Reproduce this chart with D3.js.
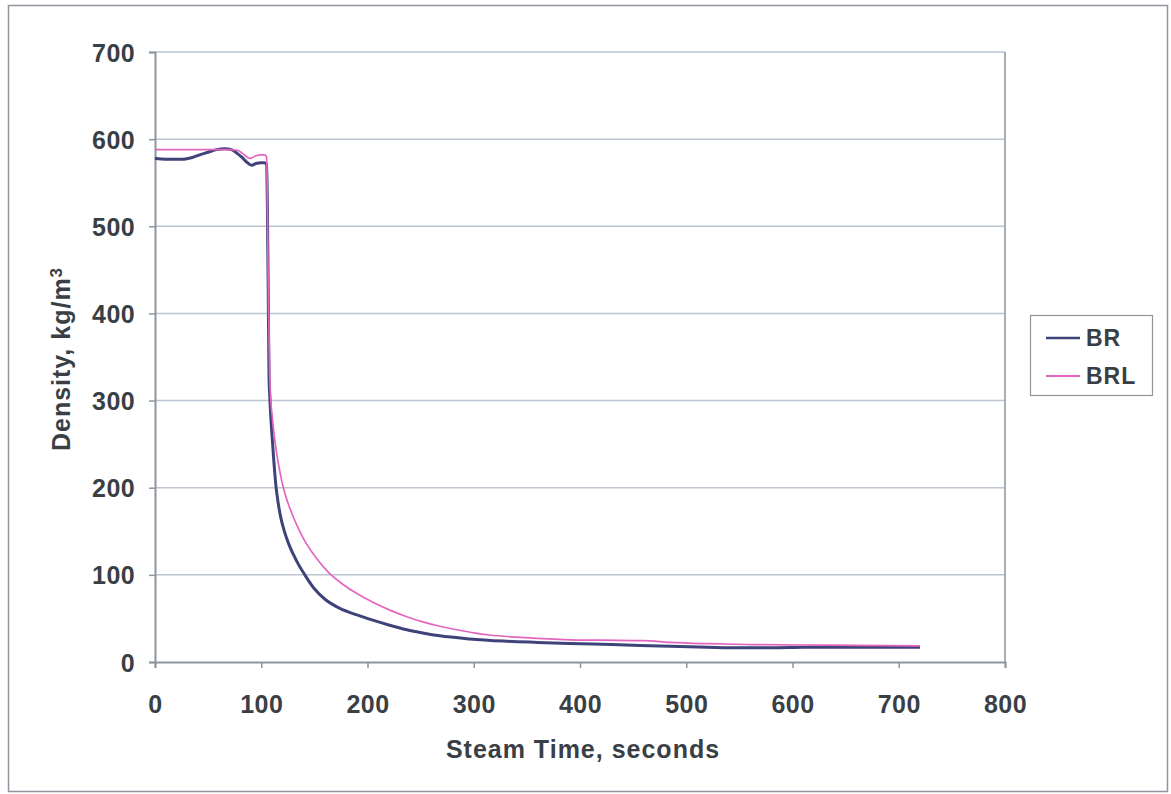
<!DOCTYPE html>
<html>
<head>
<meta charset="utf-8">
<script src="https://cdn.jsdelivr.net/npm/d3@7/dist/d3.min.js"></script>
<style>
  html, body { margin: 0; padding: 0; background: #fff; }
  svg { display: block; font-family: "Liberation Sans", Arial, sans-serif; }
</style>
</head>
<body>
<svg id="chart" width="1171" height="794"></svg>
<script>
// Steam time (s) and density (kg/m3) for the two runs
const brTime = [0, 10, 20, 26, 35, 42, 50, 58, 66, 72, 77, 82, 86, 91, 95, 100, 103, 105, 105.8, 106.6, 107.3, 108.2, 110, 112, 114, 116, 118, 122, 126, 130, 135, 141, 150, 160, 174, 190, 205, 220, 237, 252, 268, 296, 328, 360, 390, 430, 485, 520, 548, 580, 610, 650, 690, 720];
const brDensity = [578, 577, 577, 577, 579, 582, 585, 588, 589, 588, 584, 579, 574, 570, 572, 573, 573, 571, 520, 420, 330, 300, 262, 228, 200, 182, 168, 149, 135, 124, 112, 100, 84, 72, 61.5, 54, 48, 42.5, 37, 33.3, 30, 26.5, 24, 22.5, 21.3, 20, 18, 17, 16.3, 16.3, 16.8, 17, 17, 17];

const brlTime = [0, 20, 40, 60, 66, 72, 78, 82, 86, 89, 92, 95, 100, 103, 105, 105.8, 106.8, 108, 109, 110.5, 112, 113.6, 117, 120.8, 125, 130, 135, 140, 152, 164, 177, 190, 205, 221, 237, 252, 268, 284, 300, 315, 340, 360, 390, 420, 460, 485, 520, 560, 610, 660, 720];
const brlDensity = [588, 588, 588, 588, 588, 588, 587, 584, 580, 578, 579, 581, 582, 582, 580, 520, 410, 330, 300, 280, 262, 247, 222, 200, 183, 167, 153, 141, 119, 102, 89, 78.5, 68.5, 59.5, 52, 46, 41, 37, 33.5, 31, 28.5, 27, 25.5, 25, 24.5, 22.5, 21, 20, 19.5, 19, 18.5];

const xTicks = [0, 100, 200, 300, 400, 500, 600, 700, 800];
const yTicks = [0, 100, 200, 300, 400, 500, 600, 700];
const seriesNames = ["BR", "BRL"];
const seriesColors = ["#3e4379", "#e266be"];

const svg = d3.select("#chart");
const textColor = "#3a3f46";
const frameColor = "#8e959d";
const fontStack = "'Liberation Sans', Arial, sans-serif";

// outer frame
svg.append("rect")
  .attr("x", 8.5).attr("y", 5.5)
  .attr("width", 1159).attr("height", 786)
  .attr("fill", "#fff").attr("stroke", frameColor).attr("stroke-width", 1.5);

const plot = { left: 155, top: 52, right: 1005, bottom: 662 };

const x = d3.scaleLinear().domain([0, 800]).range([plot.left, plot.right]);
const y = d3.scaleLinear().domain([0, 700]).range([plot.bottom, plot.top]);

// horizontal gridlines
svg.append("g")
  .selectAll("line")
  .data(yTicks.filter(d => d > 0))
  .join("line")
  .attr("x1", plot.left).attr("x2", plot.right)
  .attr("y1", d => y(d)).attr("y2", d => y(d))
  .attr("stroke", "#bcc5d0").attr("stroke-width", 1.5);

// plot area border (right side)
svg.append("line")
  .attr("x1", plot.right).attr("x2", plot.right)
  .attr("y1", plot.top).attr("y2", plot.bottom)
  .attr("stroke", frameColor).attr("stroke-width", 1.5);

// axes
const xAxis = d3.axisBottom(x).tickValues(xTicks).tickSize(6).tickPadding(27);
const yAxis = d3.axisLeft(y).tickValues(yTicks).tickSize(6).tickPadding(14);

const gx = svg.append("g")
  .attr("transform", `translate(0,${plot.bottom})`)
  .call(xAxis);
const gy = svg.append("g")
  .attr("transform", `translate(${plot.left},0)`)
  .call(yAxis);

[gx, gy].forEach(g => {
  g.select(".domain").attr("stroke", frameColor).attr("stroke-width", 2);
  g.selectAll(".tick line").attr("stroke", frameColor).attr("stroke-width", 1.5);
  g.selectAll(".tick text")
    .attr("fill", textColor)
    .style("font-size", "25px")
    .style("font-weight", "bold")
    .style("letter-spacing", "0.4px")
    .style("font-family", fontStack);
});
gx.selectAll(".tick text").attr("dy", "0.71em");
gy.selectAll(".tick text").attr("dy", "0.36em");

// series lines
const line = d3.line()
  .x(d => x(d[0]))
  .y(d => y(d[1]))
  .curve(d3.curveMonotoneX);

const brPoints = brTime.map((t, i) => [t, brDensity[i]]);
const brlPoints = brlTime.map((t, i) => [t, brlDensity[i]]);

svg.append("path")
  .datum(brPoints)
  .attr("d", line)
  .attr("fill", "none")
  .attr("stroke", seriesColors[0])
  .attr("stroke-width", 3)
  .attr("stroke-linejoin", "round");

svg.append("path")
  .datum(brlPoints)
  .attr("d", line)
  .attr("fill", "none")
  .attr("stroke", seriesColors[1])
  .attr("stroke-width", 1.7)
  .attr("stroke-linejoin", "round");

// axis titles
svg.append("text")
  .attr("x", 583)
  .attr("y", 758)
  .attr("text-anchor", "middle")
  .attr("fill", textColor)
  .style("font-size", "25px")
  .style("font-weight", "bold")
  .style("letter-spacing", "1px")
  .text("Steam Time, seconds");

const yTitle = svg.append("text")
  .attr("transform", "translate(70,359) rotate(-90)")
  .attr("text-anchor", "middle")
  .attr("fill", textColor)
  .style("font-size", "25px")
  .style("font-weight", "bold")
  .style("letter-spacing", "1px");
yTitle.append("tspan").text("Density, kg/m");
yTitle.append("tspan").attr("dy", "-0.45em").style("font-size", "17px").text("3");

// legend
const legend = svg.append("g");
legend.append("rect")
  .attr("x", 1030.5).attr("y", 315.5)
  .attr("width", 122).attr("height", 80)
  .attr("fill", "#fff").attr("stroke", frameColor).attr("stroke-width", 1.2);

const legendRows = legend.selectAll("g.row")
  .data(seriesNames)
  .join("g")
  .attr("class", "row")
  .attr("transform", (d, i) => `translate(1046,${338 + i * 38})`);

legendRows.append("line")
  .attr("x1", 0).attr("x2", 34)
  .attr("y1", 0).attr("y2", 0)
  .attr("stroke", (d, i) => seriesColors[i])
  .attr("stroke-width", (d, i) => i === 0 ? 2.5 : 1.8);

legendRows.append("text")
  .attr("x", 40)
  .attr("y", 0)
  .attr("dy", "0.36em")
  .attr("fill", textColor)
  .style("font-size", "23px")
  .style("font-weight", "bold")
  .style("letter-spacing", "1px")
  .text(d => d);
</script>
</body>
</html>
